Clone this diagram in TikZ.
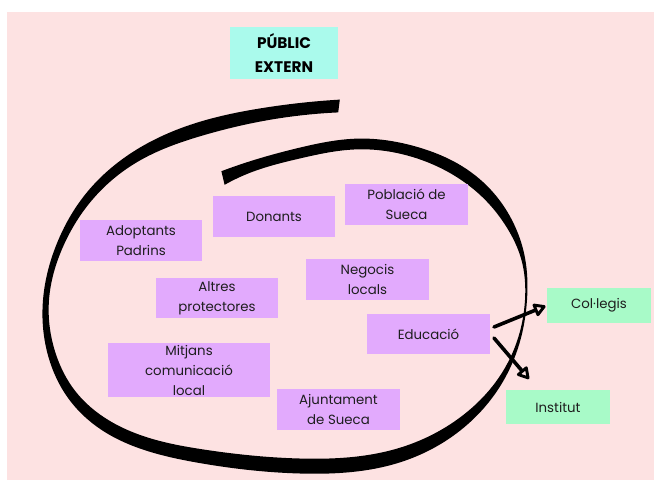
\documentclass[tikz,border=0pt]{standalone}
\usepackage{fontspec}
\setmainfont{Poppins}
\usetikzlibrary{arrows.meta,hobby}
\definecolor{bgpink}{RGB}{253,226,226}
\definecolor{boxpurple}{RGB}{226,170,253}
\definecolor{boxcyan}{RGB}{170,250,236}
\definecolor{boxgreen}{RGB}{168,250,200}
\definecolor{txt}{RGB}{30,30,30}
\begin{document}
\begin{tikzpicture}[x=0.75pt,y=-0.75pt,
  lbl/.style={inner sep=0pt, align=center, text=txt, font=\fontsize{10}{15}\selectfont},
  pbox/.style={lbl, fill=boxpurple, minimum width=122*0.75pt, minimum height=41*0.75pt},
  gbox/.style={lbl, fill=boxgreen, minimum width=104*0.75pt, minimum height=35*0.75pt},
  hbox/.style={inner sep=0pt, align=center, fill=boxcyan, text=black, font=\bfseries\fontsize{11.5}{18}\selectfont, minimum width=108*0.75pt, minimum height=52*0.75pt},
  arr/.style={line width=2.7pt, line cap=round, -{Triangle[open, round, length=10pt, width=11pt, line width=2.2pt]}}
]
\useasboundingbox (0,0) rectangle (654,480);
\fill[white] (0,0) rectangle (654,480);
\fill[bgpink] (7,12) rectangle (654,480);

% spiral brush stroke (outer edge forward, inner edge back)
\fill[black] (339.8,99.6) to[curve through={(259.6,108.5) (198.4,122.2) (132.6,152.1) (85,194.7) (56.9,243.4) (43,300) (48.4,356.8) (68.4,398.5) (101.7,430) (147.4,451) (198.3,462.8) (300.3,473.5) (402.3,461.6) (467.9,424.1) (500.3,386) (519.4,343.6) (527,300) (524.9,257.3) (513.3,222.7) (493.7,193) (463.2,166.9) (417.1,146.9) (358.2,138.6) (300.3,147.5) (249.3,161.5)}] (221.4,171.2)
  -- (224.6,184.8) to[curve through={(250.7,172.5) (299.7,158.5) (355.8,149.4) (412.9,157.1) (456.8,177.1) (486.3,201) (506.7,227.3) (521.1,258.7) (525,300) (516.6,342.4) (495.7,382) (462.1,415.9) (397.7,448.4) (299.7,458.5) (201.7,449.2) (152.6,439) (108.3,420) (75.6,391.5) (55.6,353.2) (49,300) (63.1,246.6) (91,201.3) (137.4,161.9) (201.6,135.8) (260.4,121.5)}] (338.2,112.4) -- cycle;

\node[hbox] (pub) at (284,53) {PÚBLIC\\EXTERN};
\node[pbox] (adop) at (141,240.5) {Adoptants\\Padrins};
\node[pbox] (don) at (274,216.5) {Donants};
\node[pbox, minimum width=123*0.75pt] (pob) at (406.5,204.5) {Població de\\Sueca};
\node[pbox, minimum width=123*0.75pt] (neg) at (367.5,279.5) {Negocis\\locals};
\node[pbox, minimum height=40*0.75pt] (alt) at (217,298) {Altres\\protectores};
\node[pbox, minimum width=162*0.75pt, minimum height=54*0.75pt] (mit) at (189,370) {Mitjans\\comunicació\\local};
\node[pbox, minimum width=123*0.75pt, minimum height=40*0.75pt] (edu) at (428.5,334) {Educació};
\node[pbox, minimum width=123*0.75pt] (ajun) at (338.5,409.5) {Ajuntament\\de Sueca};
\node[gbox] (col) at (599,305.5) {Col·legis};
\node[gbox, minimum height=34*0.75pt] (ins) at (558,407) {Institut};

\coordinate (a1s) at (494,327);
\coordinate (a2s) at (494,338);
\coordinate (a2e) at (529,379);
\draw[arr, shorten >=1pt] (a1s) -- (col.west);
\draw[arr] (a2s) -- (a2e);
\end{tikzpicture}
\end{document}
